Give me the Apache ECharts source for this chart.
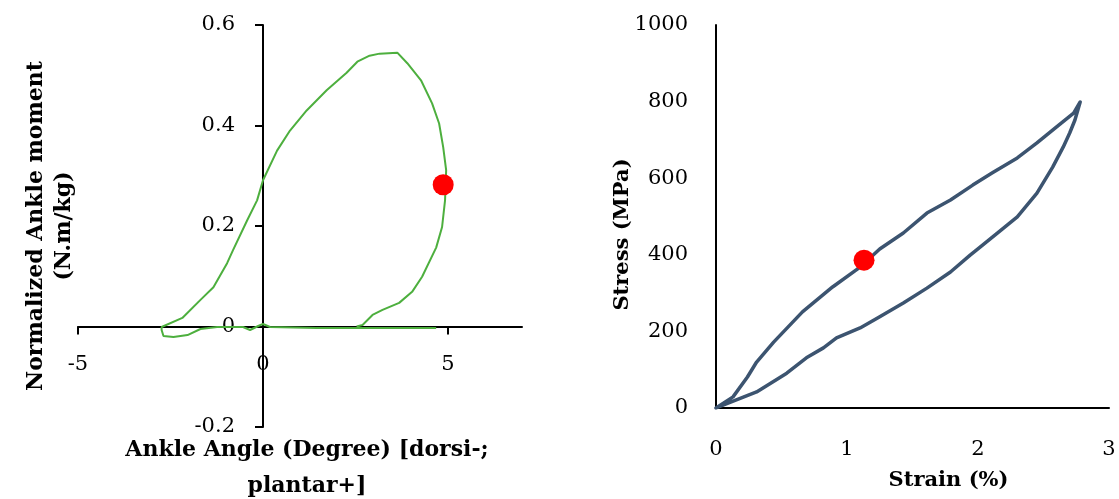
<!DOCTYPE html>
<html>
<head>
<meta charset="utf-8">
<script src="https://cdn.jsdelivr.net/npm/echarts@6/dist/echarts.min.js"></script>
<style>html,body{margin:0;padding:0;background:#fff;}#c{width:1119px;height:499px;}</style>
</head>
<body>
<div id="c"></div>
<script>
// Left panel: ankle angle (deg) vs normalized ankle moment (N.m/kg)
const ankleAngle = [4.68, 3.68, 2.53, 1.45, 0.19, 0.0, -0.13, -0.35, -0.54, -0.81, -1.24, -1.69, -2.04, -2.42, -2.69, -2.74, -2.74,
  -2.18, -1.69, -1.34, -0.97, -0.81, -0.43, -0.16, 0.0, 0.38, 0.73, 1.18, 1.72, 2.26, 2.55, 2.88, 3.15, 3.63,
  3.90, 4.27, 4.57, 4.76, 4.87, 4.95, 4.92, 4.84, 4.68, 4.30, 4.03, 3.68, 3.23, 2.96, 2.69, 2.53];
const ankleMoment = [-0.003, -0.003, -0.003, -0.003, -0.001, 0.005, 0.001, -0.007, -0.001, -0.001, -0.001, -0.005, -0.017, -0.021, -0.019, -0.007, -0.001,
  0.017, 0.053, 0.078, 0.126, 0.152, 0.211, 0.251, 0.291, 0.350, 0.390, 0.430, 0.470, 0.505, 0.527, 0.539, 0.543, 0.545,
  0.524, 0.490, 0.444, 0.404, 0.357, 0.311, 0.251, 0.198, 0.157, 0.099, 0.069, 0.047, 0.033, 0.023, 0.003, 0.0];
const leftMarker = [4.87, 0.282];
const leftXTicks = [-5, 0, 5];

// Right panel: strain (%) vs stress (MPa)
const strain = [0, 0.13, 0.24, 0.31, 0.44, 0.66, 0.89, 1.10, 1.25, 1.43, 1.61, 1.79, 1.96, 2.11, 2.30, 2.45, 2.60, 2.73, 2.78,
  2.74, 2.70, 2.65, 2.57, 2.45, 2.30, 2.15, 1.99, 1.94, 1.79, 1.61, 1.43, 1.25, 1.10, 0.92, 0.82, 0.69, 0.54, 0.31, 0.02, 0];
const stress = [0, 29, 81, 120, 172, 251, 316, 368, 415, 457, 509, 543, 582, 614, 653, 692, 734, 770, 799,
  752, 718, 681, 629, 561, 499, 457, 413, 399, 355, 313, 274, 238, 209, 183, 157, 131, 91, 42, 3, 0];
const rightMarker = [1.13, 386];

const pairs = (xs, ys) => xs.map((x, i) => [x, ys[i]]);
const FONT = 'DejaVu Serif';
const labelStyle = {fontFamily: FONT, fontSize: 21, color: '#000'};
const nameStyle = {fontFamily: FONT, fontSize: 21, fontWeight: 'bold', color: '#000'};
const leftNameStyle = Object.assign({}, nameStyle, {fontSize: 22});
const axisLine = {lineStyle: {color: '#000', width: 2}};

const chart = echarts.init(document.getElementById('c'), null, {renderer: 'canvas'});
chart.setOption({
  animation: false,
  backgroundColor: '#fff',
  grid: [
    {left: 78, top: 25, width: 444, height: 402, outerBoundsMode: 'none'},
    {left: 716, top: 25, width: 393, height: 383, outerBoundsMode: 'none'}
  ],
  xAxis: [
    {
      gridIndex: 0, type: 'value', min: -5, max: 7, interval: 5,
      position: 'bottom', offset: -100.5,
      axisLine: Object.assign({onZero: false}, axisLine),
      axisTick: {show: true, length: 8, lineStyle: {color: '#000', width: 2}, customValues: leftXTicks},
      axisLabel: Object.assign({margin: 28, customValues: leftXTicks}, labelStyle),
      splitLine: {show: false},
      name: 'Ankle Angle (Degree) [dorsi-;\nplantar+]',
      nameLocation: 'middle', nameGap: 106, nameMoveOverlap: false,
      nameTextStyle: Object.assign({lineHeight: 36, padding: [0, 0, 0, 14]}, leftNameStyle)
    },
    {
      gridIndex: 1, type: 'value', min: 0, max: 3, interval: 1,
      axisLine: axisLine,
      axisTick: {show: false},
      axisLabel: Object.assign({margin: 31}, labelStyle),
      splitLine: {show: false},
      name: 'Strain (%)',
      nameLocation: 'middle', nameGap: 62, nameMoveOverlap: false,
      nameTextStyle: Object.assign({padding: [0, 0, 0, 72]}, nameStyle)
    }
  ],
  yAxis: [
    {
      gridIndex: 0, type: 'value', min: -0.2, max: 0.6, interval: 0.2,
      position: 'left', offset: -185,
      axisLine: Object.assign({show: true, onZero: false}, axisLine),
      axisTick: {show: true, length: 8, lineStyle: {color: '#000', width: 2}},
      axisLabel: Object.assign({margin: 28, formatter: v => String(Math.round(v * 10) / 10)}, labelStyle),
      splitLine: {show: false},
      name: 'Normalized Ankle moment\n(N.m/kg)',
      nameLocation: 'middle', nameGap: 185, nameMoveOverlap: false,
      nameTextStyle: Object.assign({lineHeight: 28}, leftNameStyle)
    },
    {
      gridIndex: 1, type: 'value', min: 0, max: 1000, interval: 200,
      axisLine: Object.assign({show: true}, axisLine),
      axisTick: {show: false},
      axisLabel: Object.assign({margin: 28, formatter: v => String(v)}, labelStyle),
      splitLine: {show: false},
      name: 'Stress (MPa)',
      nameLocation: 'middle', nameGap: 83, nameMoveOverlap: false,
      nameTextStyle: Object.assign({padding: [0, 36, 0, 0]}, nameStyle)
    }
  ],
  series: [
    {
      type: 'line', xAxisIndex: 0, yAxisIndex: 0, data: pairs(ankleAngle, ankleMoment),
      showSymbol: false, symbol: 'none', lineStyle: {color: '#4DAF3E', width: 2}, silent: true
    },
    {
      type: 'scatter', xAxisIndex: 0, yAxisIndex: 0, data: [leftMarker],
      symbolSize: 21, itemStyle: {color: '#FF0000', opacity: 1}, z: 5
    },
    {
      type: 'line', xAxisIndex: 1, yAxisIndex: 1, data: pairs(strain, stress),
      showSymbol: false, symbol: 'none', lineStyle: {color: '#3C5470', width: 3.5, join: 'round', cap: 'round'}, silent: true
    },
    {
      type: 'scatter', xAxisIndex: 1, yAxisIndex: 1, data: [rightMarker],
      symbolSize: 21, itemStyle: {color: '#FF0000', opacity: 1}, z: 5
    }
  ]
});
</script>
</body>
</html>
